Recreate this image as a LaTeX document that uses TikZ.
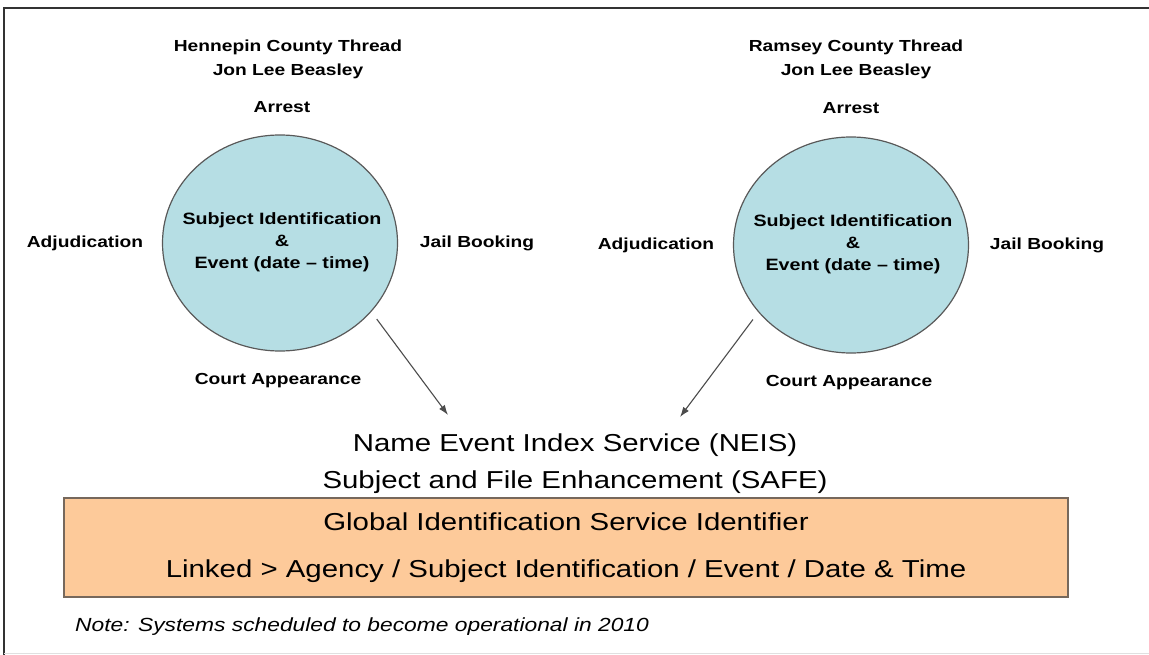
\documentclass[tikz,border=0pt]{standalone}
\usepackage{fontspec}
\setmainfont{Liberation Sans}[FakeStretch=1.2]
\usepackage{xcolor}
\usetikzlibrary{positioning}
\usepgflibrary{arrows.meta,shapes.geometric}

\definecolor{circfill}{RGB}{182,222,228}
\definecolor{boxfill}{RGB}{253,202,154}
\definecolor{boxline}{RGB}{118,104,92}

\tikzset{
  lbl/.style={font=\fontsize{16}{24}\selectfont\bfseries, align=center, inner sep=0pt},
  circ/.style={ellipse, draw=black!65, line width=1.2pt, fill=circfill,
    minimum width=235pt, minimum height=216pt, inner sep=0pt},
  circtext/.style={font=\fontsize{16.4}{22}\selectfont\bfseries, align=center, inner sep=0pt},
  bigtext/.style={font=\fontsize{24.5}{37}\selectfont, align=center, inner sep=0pt},
  feed/.style={draw=black!70, line width=1.1pt, shorten <=9pt, -{Latex[length=10pt,width=7pt]}}
}

\begin{document}
\begin{tikzpicture}[x=1pt, y=-1pt]
      \useasboundingbox (0,0) rectangle (1149,655);

      % frame
      \draw[line width=1.6pt, black!80] (4,655) -- (4,8) -- (1149,8);
      \draw[line width=1pt, black!12] (4,653) -- (1149,653);

      % Hennepin thread
      \node[circ] (lcirc) at (280,243) {};
      \node[circtext] (lsubj) at (282,242) {Subject Identification\\ \&\\ Event (date -- time)};
      \node[lbl] (ltitle) at (288,59) {Hennepin County Thread\\ Jon Lee Beasley};
      \node[lbl] (larrest) at (282,107) {Arrest};
      \node[lbl] (ladj) at (85,243) {Adjudication};
      \node[lbl] (ljail) at (477,243) {Jail Booking};
      \node[lbl] (lcourt) at (278,381) {Court Appearance};

      % Ramsey thread
      \node[circ] (rcirc) at (851,245) {};
      \node[circtext] (rsubj) at (853,244) {Subject Identification\\ \&\\ Event (date -- time)};
      \node[lbl] (rtitle) at (856,59) {Ramsey County Thread\\ Jon Lee Beasley};
      \node[lbl] (rarrest) at (851,108) {Arrest};
      \node[lbl] (radj) at (656,245) {Adjudication};
      \node[lbl] (rjail) at (1047,245) {Jail Booking};
      \node[lbl] (rcourt) at (849,383) {Court Appearance};

      % index service and identifier
      \node[bigtext] (neis) at (575,464) {Name Event Index Service (NEIS)\\ Subject and File Enhancement (SAFE)};
      \node[bigtext, draw=boxline, line width=1.8pt, fill=boxfill,
        minimum width=1004pt, minimum height=99pt, font=\fontsize{24.5}{47}\selectfont]
        (gis) at (566,547.5) {Global Identification Service Identifier\\
        Linked > Agency / Subject Identification / Event / Date \& Time};
      \node[anchor=west, inner sep=0pt, font=\fontsize{19}{22}\selectfont\itshape] (note) at (75,627)
        {Note: Systems scheduled to become operational in 2010};

      \coordinate (lin) at (448,415);
      \coordinate (rin) at (680,417);
      \draw[feed] (lcirc.-37) -- (lin);
      \draw[feed] (rcirc.-144) -- (rin);
    \end{tikzpicture}
\end{document}
